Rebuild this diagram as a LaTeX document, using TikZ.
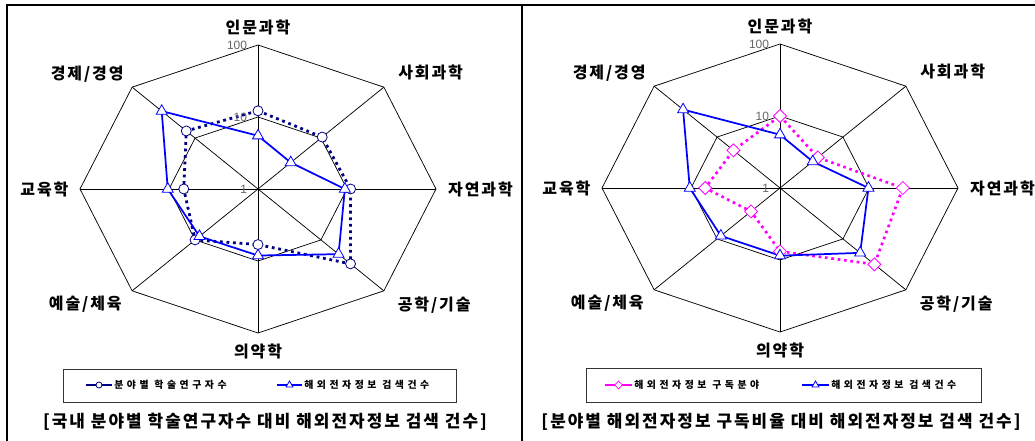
\documentclass[tikz,border=0pt]{standalone}
\usepackage{fontspec}
\setmainfont{Noto Sans CJK KR}
\newfontfamily\krfont[LetterSpace=12]{Noto Sans CJK KR}
\newfontfamily\numfont{Liberation Sans}
\usetikzlibrary{shapes.geometric,positioning}
\definecolor{navyline}{RGB}{0,0,128}
\definecolor{blueline}{RGB}{0,0,255}
\definecolor{pinkline}{RGB}{255,0,255}

\begin{document}
\begin{tikzpicture}[x=0.75pt,y=-0.75pt]

  \tikzstyle{webline}=[draw=black,line width=0.55pt]
  \tikzstyle{panelframe}=[draw=black,line width=1.5pt]
  \tikzstyle{legframe}=[draw=black!80,line width=0.7pt]
  \tikzstyle{field}=[font=\krfont\bfseries\fontsize{12}{13}\selectfont,inner sep=0pt]
  \tikzstyle{scalenum}=[font=\numfont\fontsize{9}{10}\selectfont,text=black!60,anchor=east,inner sep=0pt]
  \tikzstyle{legtext}=[font=\krfont\bfseries\fontsize{7.4}{8}\selectfont\addfontfeature{LetterSpace=36},anchor=west,inner sep=0pt]
  \tikzstyle{capline}=[font=\krfont\bfseries\fontsize{12.7}{14}\selectfont,inner sep=0pt]
  \tikzstyle{researchline}=[draw=navyline,line width=2.1pt,dash pattern=on 2.1pt off 2.8pt]
  \tikzstyle{searchline}=[draw=blueline,line width=1.3pt]
  \tikzstyle{subline}=[draw=pinkline,line width=2pt,dash pattern=on 2pt off 2.8pt]
  \tikzstyle{circmark}=[circle,draw=navyline,fill=white,line width=0.6pt,inner sep=0pt,minimum size=7.5pt]
  \tikzstyle{trimark}=[regular polygon,regular polygon sides=3,draw=blueline,fill=white,line width=0.6pt,inner sep=0pt,minimum size=9.5pt]
  \tikzstyle{diamark}=[diamond,draw=pinkline,fill=white,line width=0.6pt,inner sep=0pt,minimum width=10pt,minimum height=10pt]

  \useasboundingbox (0,0) rectangle (1035,441);

  \draw[panelframe] (1035,5.5) -- (7,5.5) -- (7,441);
  \draw[panelframe] (521.7,5.5) -- (521.7,441);

  % radar webs
  \foreach \cx/\cy/\p in {258/189/a,780/188/b}{
    \begin{scope}[shift={(\cx,\cy)},x=133.5pt,y=108pt]
      \draw[webline] (90:1) \foreach \k in {1,...,7}{ -- ({90-45*\k}:1)} -- cycle;
      \draw[webline] (90:0.5) \foreach \k in {1,...,7}{ -- ({90-45*\k}:0.5)} -- cycle;
      \foreach \k in {0,...,7} \draw[webline] (0,0) -- ({90-45*\k}:1);
      \foreach \t/\lx/\ly [count=\i from 0] in {인문과학/0/1.125,사회과학/0.97/0.81,자연과학/1.25/0,{공학/기술}/0.99/-0.81,의약학/0/-1.13,{예술/체육}/-0.97/-0.8,교육학/-1.2/0,{경제/경영}/-0.96/0.8}
        \node[field] (\p l\i) at (\lx,\ly) {\t};
    \end{scope}
  }

  % left chart data
  \begin{scope}[shift={(258,189)},x=133.5pt,y=108pt]
    \foreach \r [count=\i from 0] in {0.543,0.51,0.52,0.735,0.386,0.5,0.417,0.57}
      \coordinate (ac\i) at ({90-45*\i}:\r);
    \foreach \r [count=\i from 0] in {0.37,0.26,0.488,0.64,0.462,0.465,0.507,0.765}
      \coordinate (at\i) at ({90-45*\i}:\r);
    \draw[researchline] (ac0) \foreach \i in {1,...,7}{ -- (ac\i)} -- cycle;
    \draw[searchline] (at0) \foreach \i in {1,...,7}{ -- (at\i)} -- cycle;
    \foreach \i in {0,...,7} \node[circmark] (acm\i) at (ac\i) {};
    \foreach \i in {0,...,7} \node[trimark] (atm\i) at (at\i) {};
  \end{scope}

  % right chart data
  \begin{scope}[shift={(780,188)},x=133.5pt,y=108pt]
    \foreach \r [count=\i from 0] in {0.50,0.30,0.69,0.75,0.44,0.23,0.42,0.37}
      \coordinate (bd\i) at ({90-45*\i}:\r);
    \foreach \r [count=\i from 0] in {0.37,0.26,0.497,0.637,0.47,0.47,0.507,0.77}
      \coordinate (bt\i) at ({90-45*\i}:\r);
    \draw[subline] (bd0) \foreach \i in {1,...,7}{ -- (bd\i)} -- cycle;
    \draw[searchline] (bt0) \foreach \i in {1,...,7}{ -- (bt\i)} -- cycle;
    \foreach \i in {0,...,7} \node[diamark] (bdm\i) at (bd\i) {};
    \foreach \i in {0,...,7} \node[trimark] (btm\i) at (bt\i) {};
  \end{scope}

  % scale numbers
  \foreach \cx/\cy/\p in {258/189/a,780/188/b}{
    \begin{scope}[shift={(\cx,\cy)},x=133.5pt,y=108pt]
      \node[scalenum] (\p s2) at (-0.06,1) {100};
      \node[scalenum] (\p s1) at (-0.06,0.5) {10};
      \node[scalenum] (\p s0) at (-0.06,0) {1};
    \end{scope}
  }

  % legends
  \draw[legframe] (63,369) rectangle (456,402);
  \coordinate (lga1) at (86,385);
  \coordinate (lga2) at (112,385);
  \draw[navyline,line width=0.9pt] (lga1) -- (lga2);
  \node[circmark,minimum size=4.5pt] (lgam) at (99,385) {};
  \node[legtext] (lgat) at (114,385) {분야별 학술연구자수};
  \coordinate (lgb1) at (277,385);
  \coordinate (lgb2) at (302,385);
  \draw[blueline,line width=0.9pt] (lgb1) -- (lgb2);
  \node[trimark,minimum size=6pt] (lgbm) at (289.5,385) {};
  \node[legtext] (lgbt) at (304,385) {해외전자정보 검색건수};

  \draw[legframe] (586,368) rectangle (981,402);
  \coordinate (lgc1) at (605,385);
  \coordinate (lgc2) at (632,385);
  \draw[pinkline,line width=0.9pt] (lgc1) -- (lgc2);
  \node[diamark,minimum width=6pt,minimum height=6pt] (lgcm) at (618.5,385) {};
  \node[legtext] (lgct) at (634,385) {해외전자정보 구독분야};
  \coordinate (lgd1) at (802,385);
  \coordinate (lgd2) at (829,385);
  \draw[blueline,line width=0.9pt] (lgd1) -- (lgd2);
  \node[trimark,minimum size=6pt] (lgdm) at (815.5,385) {};
  \node[legtext] (lgdt) at (831,385) {해외전자정보 검색건수};

  \node[capline] (capa) at (265,422) {[국내 분야별 학술연구자수 대비 해외전자정보 검색 건수]};
  \node[capline] (capb) at (781,422) {[분야별 해외전자정보 구독비율 대비 해외전자정보 검색 건수]};

\end{tikzpicture}
\end{document}
